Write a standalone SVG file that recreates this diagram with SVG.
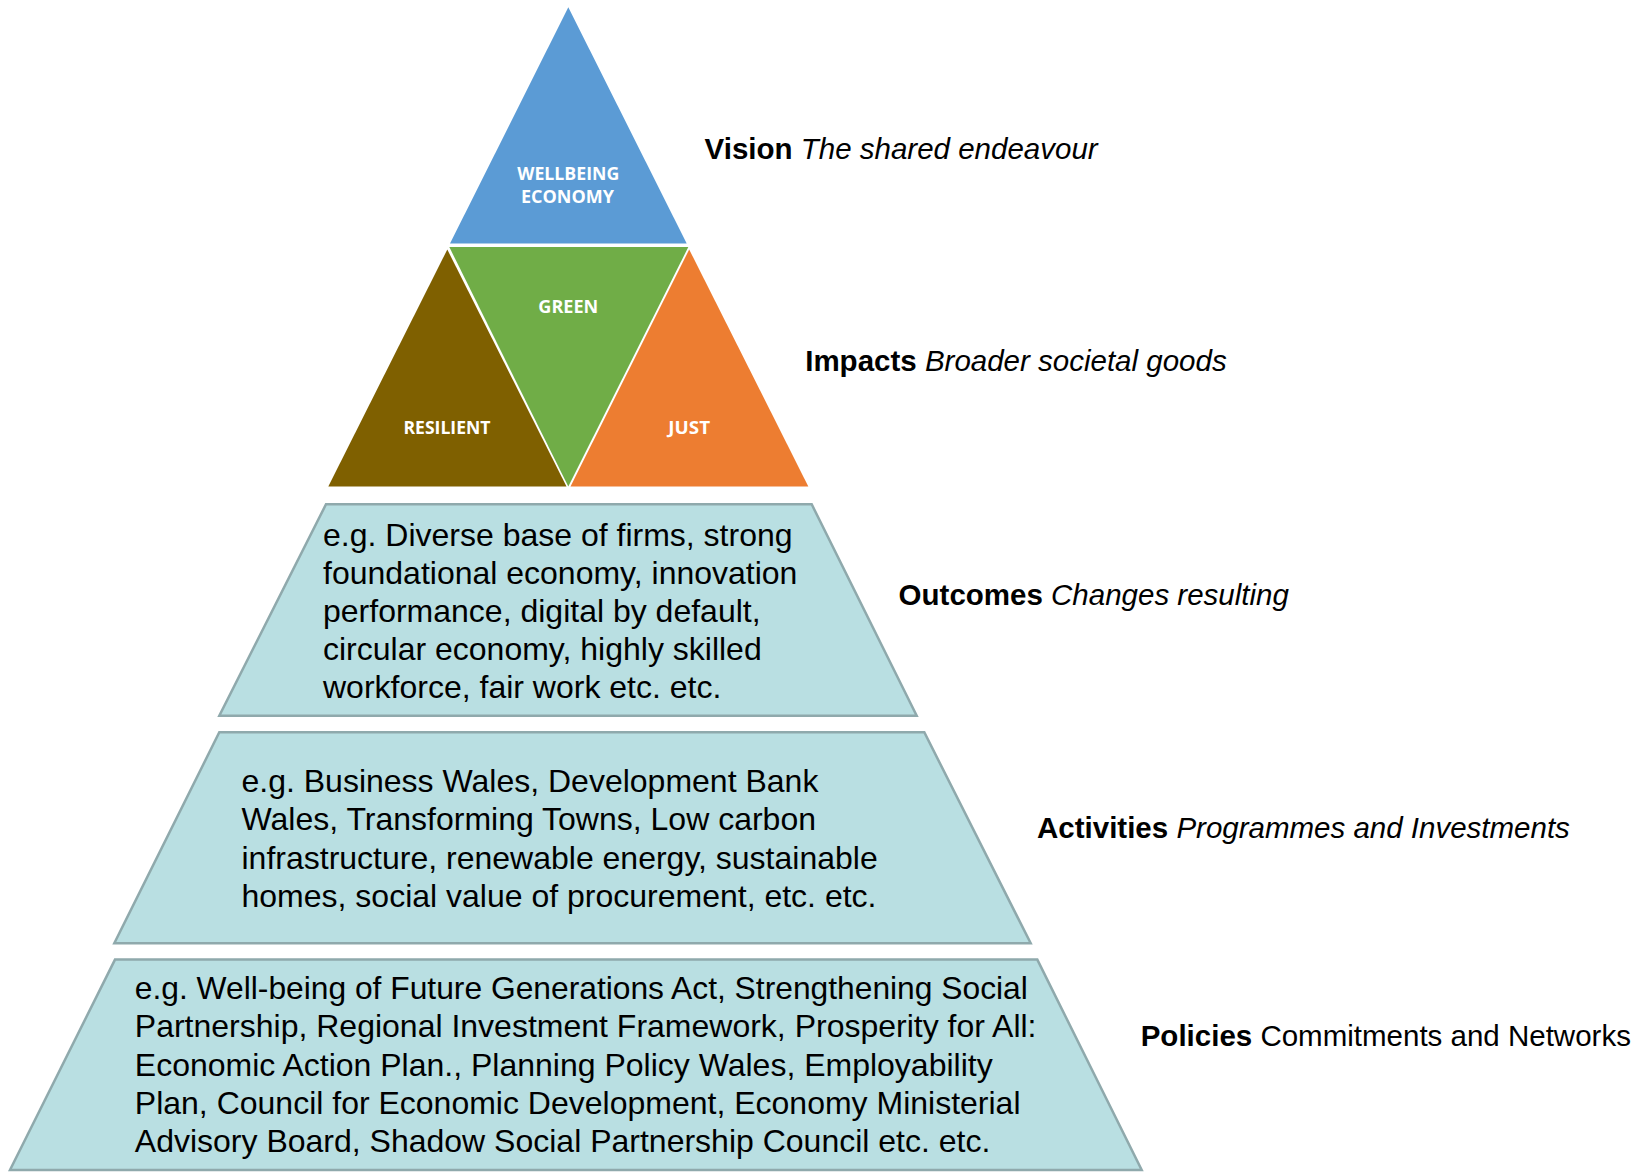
<svg xmlns="http://www.w3.org/2000/svg" width="1644" height="1172" viewBox="0 0 1644 1172">
<style>
.tri-label{font-family:"Open Sans","Liberation Sans",sans-serif;font-weight:700;fill:#ffffff;text-anchor:middle;font-size:18px}
.body{font-family:"Liberation Sans",Arial,sans-serif;font-size:32px;fill:#000000}
.lbl{font-family:"Liberation Sans",Arial,sans-serif;font-size:29.5px;fill:#000000}
.b{font-weight:700}
.i{font-style:italic}
.tier{fill:#B9DFE2;stroke:#8FA9AC;stroke-width:2.5;stroke-linejoin:miter}
</style>
<rect x="0" y="0" width="1644" height="1172" fill="#ffffff"/>
<g id="vision">
<polygon points="568.3,7.3 686.7,243.5 450,243.5" fill="#5B9BD5"/>
<text class="tri-label" x="568.3" y="180" textLength="102" lengthAdjust="spacingAndGlyphs">WELLBEING</text>
<text class="tri-label" x="567.5" y="202.7" textLength="93" lengthAdjust="spacingAndGlyphs">ECONOMY</text>
</g>
<g id="green">
<polygon points="449.3,247 688.3,247 568.3,486.5" fill="#70AD47"/>
<text class="tri-label" x="568.3" y="312.7" textLength="60" lengthAdjust="spacingAndGlyphs">GREEN</text>
</g>
<g id="resilient">
<polygon points="447.3,249.5 566.5,486.5 328.3,486.5" fill="#7F6000"/>
<text class="tri-label" x="447" y="434" textLength="87" lengthAdjust="spacingAndGlyphs">RESILIENT</text>
</g>
<g id="just">
<polygon points="689.2,249.5 808.3,486.5 570.5,486.5" fill="#ED7D31"/>
<text class="tri-label" x="689.2" y="434" textLength="41.7" lengthAdjust="spacingAndGlyphs">JUST</text>
</g>
<g id="outcomes">
<polygon class="tier" points="326,504.3 811.7,504.3 916.7,715.7 219.3,715.7"/>
<text class="body" x="323" y="545.5">e.g. Diverse base of firms, strong</text>
<text class="body" x="323" y="583.7">foundational economy, innovation</text>
<text class="body" x="323" y="621.9">performance, digital by default,</text>
<text class="body" x="323" y="660.1">circular economy, highly skilled</text>
<text class="body" x="323" y="698.3">workforce, fair work etc. etc.</text>
</g>
<g id="activities">
<polygon class="tier" points="219.3,732.3 924.3,732.3 1030.7,943.3 114.3,943.3"/>
<text class="body" x="241.5" y="791.8">e.g. Business Wales, Development Bank</text>
<text class="body" x="241.5" y="830.2">Wales, Transforming Towns, Low carbon</text>
<text class="body" x="241.5" y="868.6">infrastructure, renewable energy, sustainable</text>
<text class="body" x="241.5" y="907">homes, social value of procurement, etc. etc.</text>
</g>
<g id="policies">
<polygon class="tier" points="115,959.6 1037.3,959.6 1141.7,1170 10,1170"/>
<text class="body" x="134.8" y="999" textLength="893" lengthAdjust="spacingAndGlyphs">e.g. Well-being of Future Generations Act, Strengthening Social</text>
<text class="body" x="134.8" y="1037.3">Partnership, Regional Investment Framework, Prosperity for All:</text>
<text class="body" x="134.8" y="1075.6">Economic Action Plan., Planning Policy Wales, Employability</text>
<text class="body" x="134.8" y="1113.9">Plan, Council for Economic Development, Economy Ministerial</text>
<text class="body" x="134.8" y="1152.2">Advisory Board, Shadow Social Partnership Council etc. etc.</text>
</g>
<g id="labels">
<text class="lbl" x="704.6" y="159"><tspan class="b">Vision</tspan> <tspan class="i">The shared endeavour</tspan></text>
<text class="lbl" x="805.2" y="371"><tspan class="b">Impacts</tspan> <tspan class="i">Broader societal goods</tspan></text>
<text class="lbl" x="898.6" y="604.5"><tspan class="b">Outcomes</tspan> <tspan class="i">Changes resulting</tspan></text>
<text class="lbl" x="1037" y="837.5"><tspan class="b">Activities</tspan> <tspan class="i">Programmes and Investments</tspan></text>
<text class="lbl" x="1140.7" y="1046"><tspan class="b">Policies</tspan> Commitments and Networks</text>
</g>
<g id="connectors"></g>
</svg>
